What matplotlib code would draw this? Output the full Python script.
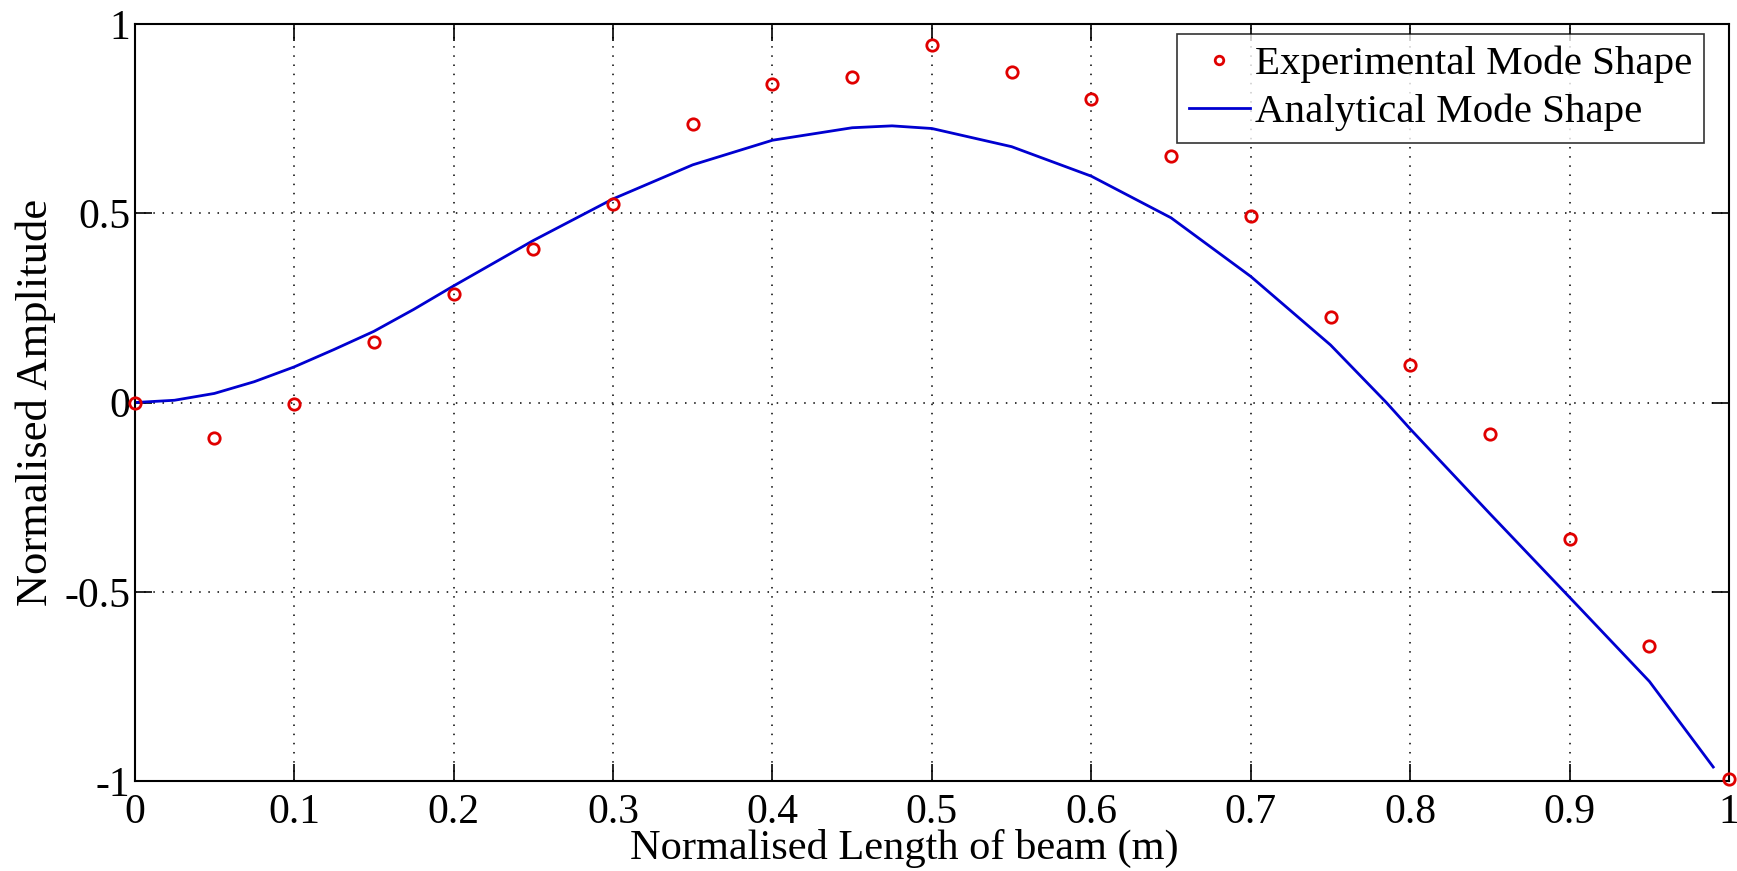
import matplotlib
matplotlib.use("Agg")
import matplotlib.pyplot as plt

# measured mode shape, sampled every 0.05 along the beam
exp_x = [0.0, 0.05, 0.1, 0.15, 0.2, 0.25, 0.3, 0.35, 0.4, 0.45, 0.5,
         0.55, 0.6, 0.65, 0.7, 0.75, 0.8, 0.85, 0.9, 0.95, 1.0]
exp_y = [0.0, -0.094, -0.003, 0.161, 0.287, 0.405, 0.524, 0.736, 0.841, 0.860, 0.944,
         0.874, 0.801, 0.651, 0.493, 0.226, 0.099, -0.083, -0.360, -0.643, -0.995]

# analytical mode shape
ana_x = [0.0, 0.025, 0.05, 0.075, 0.1, 0.125, 0.15, 0.175, 0.2, 0.25, 0.3, 0.35,
         0.4, 0.45, 0.475, 0.5, 0.55, 0.6, 0.65, 0.7, 0.75, 0.785, 0.8, 0.85,
         0.9, 0.95, 0.99]
ana_y = [0.0, 0.006, 0.024, 0.055, 0.094, 0.140, 0.188, 0.246, 0.308, 0.428, 0.538, 0.628,
         0.693, 0.726, 0.731, 0.724, 0.676, 0.598, 0.488, 0.333, 0.152, 0.0, -0.070, -0.294,
         -0.515, -0.737, -0.963]

x_ticks = [0, 0.1, 0.2, 0.3, 0.4, 0.5, 0.6, 0.7, 0.8, 0.9, 1]
x_labels = ["0", "0.1", "0.2", "0.3", "0.4", "0.5", "0.6", "0.7", "0.8", "0.9", "1"]
y_ticks = [-1, -0.5, 0, 0.5, 1]
y_labels = ["-1", "-0.5", "0", "0.5", "1"]

plt.rcParams['font.family'] = ['Liberation Serif', 'DejaVu Serif']

fig = plt.figure(figsize=(17.37, 8.71), dpi=100)
ax = fig.add_axes([0.0775, 0.1033, 0.918, 0.8691])

ax.plot(exp_x, exp_y, 'o', color='#e00000', mfc='none', ms=8.2, mew=2.0,
        label='Experimental Mode Shape', clip_on=False, zorder=3)
ax.plot(ana_x, ana_y, '-', color='#0000d0', lw=2.0,
        label='Analytical Mode Shape', zorder=2)

ax.set_xlim(0, 1)
ax.set_ylim(-1, 1)
ax.set_xticks(x_ticks)
ax.set_xticklabels(x_labels)
ax.set_yticks(y_ticks)
ax.set_yticklabels(y_labels)

ax.grid(True, color='black', linestyle=(0, (1, 5)), linewidth=1.1)
ax.tick_params(direction='in', length=12, width=1.2, top=True, right=True,
               labelsize=30)
ax.tick_params(axis='x', pad=9)
ax.tick_params(axis='y', pad=3)
for s in ax.spines.values():
    s.set_linewidth(1.5)

ax.set_xlabel('Normalised Length of beam (m)', fontsize=30.5)
ax.xaxis.set_label_coords(0.483, -0.089)
ax.xaxis.label.set_va('center')
ax.set_ylabel('Normalised Amplitude', fontsize=32, labelpad=6)

leg = ax.legend(loc='upper right', fontsize=29.5, frameon=True, fancybox=False,
                edgecolor='black', handlelength=1.5, handletextpad=0.12,
                borderpad=0.28, labelspacing=0.26, markerscale=0.75,
                borderaxespad=0, bbox_to_anchor=(0.984, 0.987))
leg.get_frame().set_linewidth(1.2)

fig.savefig('out.png', dpi=100, facecolor='white')
